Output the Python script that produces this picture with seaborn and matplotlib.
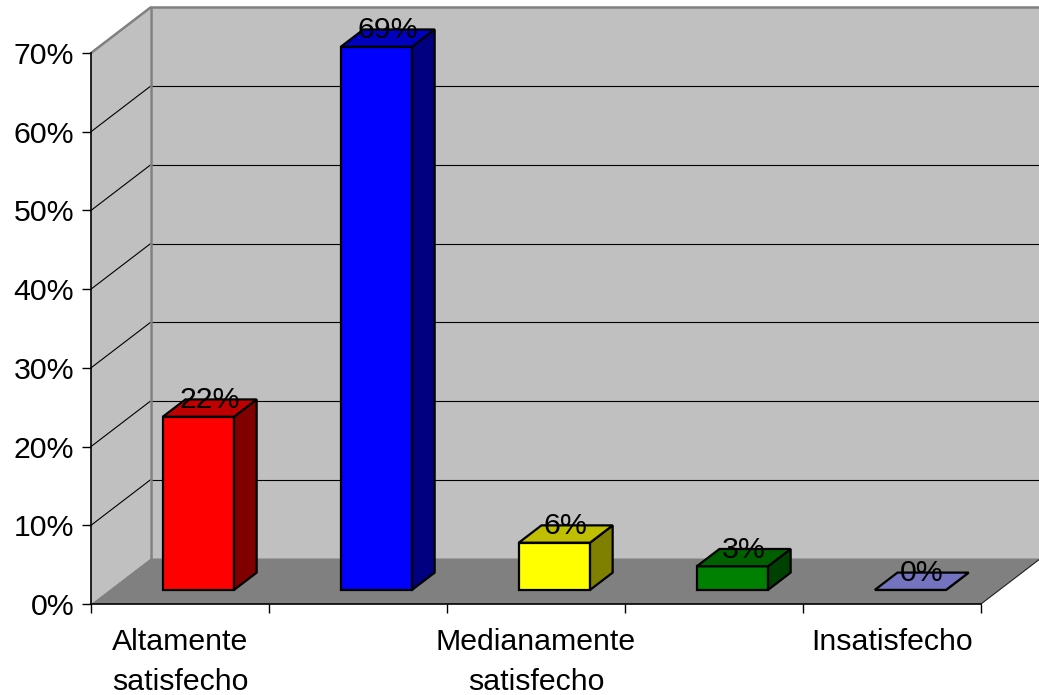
import numpy as np
import matplotlib
matplotlib.use("Agg")
import matplotlib.pyplot as plt
from matplotlib.patches import Polygon
from matplotlib.lines import Line2D
from matplotlib.transforms import Affine2D
from matplotlib.colors import to_rgb
import seaborn as sns

# ---- data -------------------------------------------------------------
tick_labels = ["Altamente\nsatisfecho", "", "Medianamente\nsatisfecho", "", "Insatisfecho"]
porcentajes = [22, 69, 6, 3, 0]
colores = ["#FF0000", "#0000FF", "#FFFF00", "#008000", "#9999FF"]
y_ticks = [0, 10, 20, 30, 40, 50, 60, 70]

# ---- style ------------------------------------------------------------
sns.set_theme(style="white")
plt.rcParams["font.family"] = ["Liberation Sans", "DejaVu Sans"]
FS = 21.8

W, H = 1039, 695
fig = plt.figure(figsize=(W / 100, H / 100), dpi=100)
fig.patch.set_facecolor("white")

# front plane of the box, in pixels
x0, x1, yb, yt = 91, 981, 604, 53
ax = fig.add_axes([x0 / W, 1 - yb / H, (x1 - x0) / W, (yb - yt) / H])
n = len(porcentajes)
ax.set_xlim(-0.5, n - 0.5)
ax.set_ylim(y_ticks[0], y_ticks[-1])
ax.patch.set_visible(False)

# oblique depth offset of the box, in data units
px_x = (x1 - x0) / n
px_y = (yb - yt) / (y_ticks[-1] - y_ticks[0])
DX = 59.5 / px_x
DY = 45.5 / px_y
F0, F1 = 0.31, 0.69  # front / back of the columns inside the depth

# ---- columns (front faces) --------------------------------------------
idx = [str(i) for i in range(n)]
sns.barplot(x=idx, y=porcentajes, hue=idx, palette=colores, width=0.4,
            saturation=1, edgecolor="black", linewidth=1.6, legend=False, ax=ax)
bars = list(ax.patches)

shift = Affine2D().translate(F0 * DX, F0 * DY) + ax.transData
ddx, ddy = (F1 - F0) * DX, (F1 - F0) * DY


def shade(c, k):
    return tuple(np.array(to_rgb(c)) * k)


for p, col in zip(bars, colores):
    p.set_transform(shift)
    p.set_clip_on(False)
    p.set_zorder(4)
    bx, bw, bh = p.get_x(), p.get_width(), p.get_height()
    side = Polygon([(bx + bw, 0), (bx + bw, bh), (bx + bw + ddx, bh + ddy), (bx + bw + ddx, ddy)],
                   closed=True, fc=shade(col, 0.5), ec="black", lw=1.6, zorder=4,
                   transform=shift, clip_on=False, joinstyle="miter")
    top = Polygon([(bx, bh), (bx + bw, bh), (bx + bw + ddx, bh + ddy), (bx + ddx, bh + ddy)],
                  closed=True, fc=shade(col, 0.75), ec="black", lw=1.6, zorder=4,
                  transform=shift, clip_on=False, joinstyle="miter")
    ax.add_patch(side)
    ax.add_patch(top)

# ---- walls and floor ---------------------------------------------------
xl, xr = -0.5, n - 0.5
ytop = y_ticks[-1]
wall, floor, edge = "#C0C0C0", "#808080", "#808080"
ax.add_patch(Polygon([(xl, 0), (xl, ytop), (xl + DX, ytop + DY), (xl + DX, DY)],
                     fc=wall, ec="none", zorder=0, clip_on=False))
ax.add_patch(Polygon([(xl + DX, DY), (xl + DX, ytop + DY), (xr + DX, ytop + DY), (xr + DX, DY)],
                     fc=wall, ec="none", zorder=0, clip_on=False))
ax.add_patch(Polygon([(xl, 0), (xr, 0), (xr + DX, DY), (xl + DX, DY)],
                     fc=floor, ec="none", zorder=0.5, clip_on=False))

for v in y_ticks[1:-1]:
    ax.add_line(Line2D([xl + DX, xr + DX], [v + DY, v + DY], color="black", lw=0.8,
                       zorder=1, clip_on=False))
    ax.add_line(Line2D([xl, xl + DX], [v, v + DY], color="black", lw=0.8,
                       zorder=1, clip_on=False))

ax.add_line(Line2D([xl, xl + DX, xr + DX], [ytop, ytop + DY, ytop + DY], color=edge, lw=1.8,
                   zorder=1.5, clip_on=False, solid_joinstyle="miter"))
ax.add_line(Line2D([xl + DX, xl + DX], [DY, ytop + DY], color=edge, lw=1.8,
                   zorder=1.5, clip_on=False))
ax.add_line(Line2D([xr, xr + DX], [0, DY], color="#202020", lw=0.8,
                   zorder=1.5, clip_on=False))

# ---- value labels -------------------------------------------------------
for i, v in enumerate(porcentajes):
    ax.text(i + 0.5 * DX, v + 0.5 * DY, f"{v}%", ha="center", va="baseline",
            fontsize=FS, color="black", zorder=10, clip_on=False)

# ---- axes -----------------------------------------------------------------
for s in ("top", "right"):
    ax.spines[s].set_visible(False)
for s in ("left", "bottom"):
    ax.spines[s].set_color("black")
    ax.spines[s].set_linewidth(1.2)
    ax.spines[s].set_zorder(2)

ax.set_yticks(y_ticks)
ax.set_yticklabels([f"{v}%" for v in y_ticks])
ax.set_xticks(np.arange(xl, xr + 0.01, 1.0))
ax.set_xticklabels([])
ax.set_xticks(range(n), minor=True)
ax.set_xticklabels(tick_labels, minor=True)
ax.set_xlabel("")
ax.set_ylabel("")
ax.tick_params(axis="y", which="major", direction="out", length=6.5, width=1.0,
               color="black", pad=5.5, labelsize=FS, labelcolor="black", left=True)
ax.tick_params(axis="x", which="major", direction="out", length=6.5, width=1.0,
               color="black", bottom=True)
ax.tick_params(axis="x", which="minor", length=0, pad=17.5, labelsize=FS,
               labelcolor="black")
for t in ax.get_xticklabels(minor=True):
    t.set_linespacing(1.55)

fig.savefig("out.png", dpi=100, facecolor="white")
